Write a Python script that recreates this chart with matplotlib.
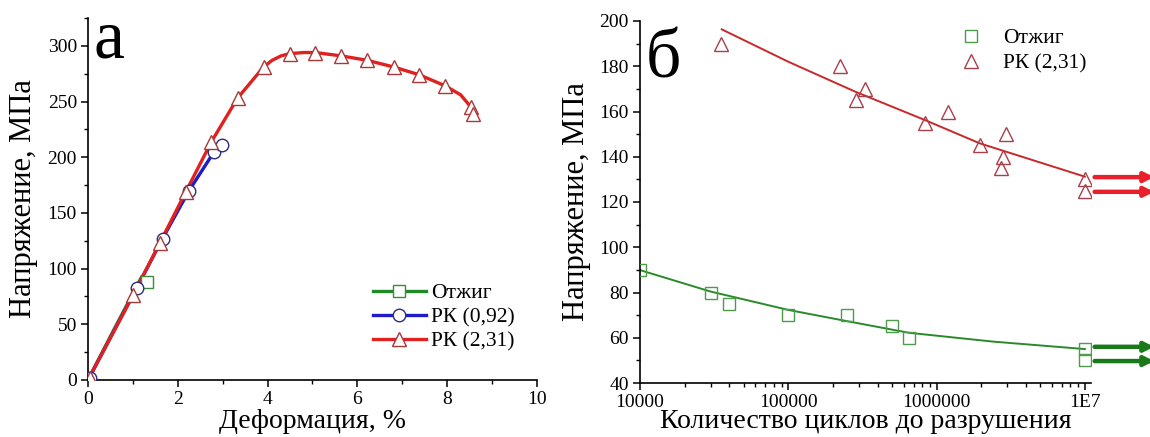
import numpy as np
import matplotlib
matplotlib.use("Agg")
import matplotlib.pyplot as plt
from matplotlib.ticker import MultipleLocator, LogLocator, NullFormatter

plt.rcParams["font.family"] = ["Liberation Serif", "DejaVu Serif"]

# --- panel a: tension curves (strain %, stress MPa) ---
ann_curve_x = [0.0, 0.6, 1.2, 1.31]
ann_curve_y = [0.0, 47, 93, 88]
ann_mark_x = [1.31]
ann_mark_y = [88]

rk092_curve_x = [0.0, 1.09, 1.66, 2.25, 2.81, 2.95]
rk092_curve_y = [0.0, 83, 127, 170, 205, 210]
rk092_mark_x = [0.05, 1.09, 1.66, 2.25, 2.81, 2.99]
rk092_mark_y = [2, 83, 127, 170, 205, 211]

rk231_curve_x = [0.0, 1.0, 1.6, 2.18, 2.75, 3.33, 3.91, 4.1, 4.3, 4.49, 4.8,
                 5.06, 5.64, 6.22, 6.81, 7.38, 7.96, 8.3, 8.55]
rk231_curve_y = [0.0, 76, 123, 169, 214, 253, 281, 287, 291, 293, 294,
                 294, 291, 287, 281, 274, 264, 256, 244]
rk231_mark_x = [0.05, 1.0, 1.6, 2.18, 2.75, 3.33, 3.91, 4.49, 5.06, 5.64,
                6.22, 6.81, 7.38, 7.96, 8.53, 8.58]
rk231_mark_y = [2, 76, 123, 169, 214, 253, 281, 293, 294, 291,
                287, 281, 274, 264, 245, 239]

# --- panel b: fatigue (cycles, stress MPa) ---
fat_ann_n = [1e4, 3e4, 4e4, 1e5, 2.5e5, 5e5, 6.5e5, 1e7, 1e7]
fat_ann_s = [90, 80, 75, 70, 70, 65, 60, 55, 50]
fit_ann_n = [1e4, 3e4, 1e5, 2.6e5, 6.5e5, 2.4e6, 1e7]
fit_ann_s = [89.9, 80.4, 72.3, 67.1, 62.2, 58.3, 55.0]

fat_rk_n = [3.5e4, 2.24e5, 2.84e5, 3.31e5, 8.34e5, 1.19e6, 1.95e6,
            2.93e6, 2.8e6, 2.73e6, 1e7, 1e7]
fat_rk_s = [190, 180, 165, 170, 155, 160, 145, 150, 140, 135, 130, 125]
fit_rk_n = [3.56e4, 1e5, 2.82e5, 8.36e5, 1.96e6, 1e7]
fit_rk_s = [196.3, 182.0, 168.8, 156.2, 145.9, 131.2]

runout_rk = [131, 124.5]
runout_ann = [56, 49.7]

GREEN = "#1f8a2a"
BLUE = "#1c1cc8"
RED = "#e0211f"

fig = plt.figure(figsize=(11.5, 4.37), dpi=100)

# ---------------- panel a ----------------
ax1 = fig.add_axes([88 / 1150, 57 / 437, 449 / 1150, 362 / 437])
ax1.plot(ann_curve_x, ann_curve_y, color=GREEN, lw=2.4, zorder=2)
ax1.plot(rk092_curve_x, rk092_curve_y, color=BLUE, lw=2.4, zorder=3)
ax1.plot(rk231_curve_x, rk231_curve_y, color=RED, lw=2.4, zorder=4)
ax1.plot(ann_mark_x, ann_mark_y, ls="none", marker="s", ms=8, mfc="white",
         mec="#3c8c3c", mew=1.0, zorder=5)
ax1.plot(rk092_mark_x, rk092_mark_y, ls="none", marker="o", ms=9, mfc="white",
         mec="#2a2a80", mew=1.0, zorder=5)
ax1.plot(rk231_mark_x, rk231_mark_y, ls="none", marker="^", ms=10, mfc="white",
         mec="#a83838", mew=1.0, zorder=6)

h1, = ax1.plot([], [], color=GREEN, lw=2.4, marker="s", ms=8, mfc="white", mec="#3c8c3c")
h2, = ax1.plot([], [], color=BLUE, lw=2.4, marker="o", ms=9, mfc="white", mec="#2a2a80")
h3, = ax1.plot([], [], color=RED, lw=2.4, marker="^", ms=10, mfc="white", mec="#a83838")
ax1.legend([h1, h2, h3], ["Отжиг", "РК (0,92)", "РК (2,31)"], loc="upper left",
           bbox_to_anchor=(373 / 1150, (437 - 283) / 437), bbox_transform=fig.transFigure,
           frameon=False, fontsize=15.5, handlelength=2.45, handletextpad=0.25,
           borderpad=0, borderaxespad=0, labelspacing=0.2)

ax1.set_xlim(0, 10)
ax1.set_ylim(0, 325)
ax1.xaxis.set_major_locator(MultipleLocator(2))
ax1.xaxis.set_minor_locator(MultipleLocator(1))
ax1.yaxis.set_major_locator(MultipleLocator(50))
ax1.yaxis.set_minor_locator(MultipleLocator(25))
ax1.set_xlabel("Деформация, %", fontsize=20)
ax1.set_ylabel("Напряжение, МПа", fontsize=22)
ax1.xaxis.set_label_coords(0.5, -0.081)
ax1.yaxis.set_label_coords(-0.112, 0.5)
fig.text(94 / 1150, (437 - 58) / 437, "а", fontsize=50, va="baseline", ha="left")

# ---------------- panel b ----------------
ax2 = fig.add_axes([640 / 1150, 54 / 437, 451 / 1150, 362 / 437])
ax2.set_xscale("log")
ax2.plot(fit_ann_n, fit_ann_s, color="#2a8a2a", lw=1.4, zorder=2)
ax2.plot(fit_rk_n, fit_rk_s, color="#c8282a", lw=1.4, zorder=2)
ax2.plot(fat_ann_n, fat_ann_s, ls="none", marker="s", ms=8, mfc="none",
         mec="#4c9c4c", mew=1.0, label="Отжиг", zorder=3)
ax2.plot(fat_rk_n, fat_rk_s, ls="none", marker="^", ms=9.5, mfc="none",
         mec="#a8404c", mew=1.0, label="РК (2,31)", zorder=3)
ax2.legend(loc="upper left", bbox_to_anchor=(960 / 1150, (437 - 28) / 437),
           bbox_transform=fig.transFigure, frameon=False, fontsize=15.5,
           handlelength=1.0, handletextpad=1.0, borderpad=0, borderaxespad=0,
           labelspacing=0.25)

for yv in runout_rk:
    ax2.annotate("", xy=(1.14, yv), xytext=(1.008, yv),
                 xycoords=("axes fraction", "data"), textcoords=("axes fraction", "data"),
                 arrowprops=dict(arrowstyle="-|>", lw=3.2, color="#e8202a",
                                 mutation_scale=14, shrinkA=0, shrinkB=0),
                 annotation_clip=False)
for yv in runout_ann:
    ax2.annotate("", xy=(1.14, yv), xytext=(1.008, yv),
                 xycoords=("axes fraction", "data"), textcoords=("axes fraction", "data"),
                 arrowprops=dict(arrowstyle="-|>", lw=3.2, color="#1a7a1a",
                                 mutation_scale=14, shrinkA=0, shrinkB=0),
                 annotation_clip=False)

ax2.set_xlim(1e4, 1.1e7)
ax2.set_ylim(40, 200)
ax2.set_xticks([1e4, 1e5, 1e6, 1e7], ["10000", "100000", "1000000", "1E7"])
ax2.xaxis.set_minor_locator(LogLocator(base=10, subs=np.arange(2, 10)))
ax2.xaxis.set_minor_formatter(NullFormatter())
ax2.yaxis.set_major_locator(MultipleLocator(20))
ax2.yaxis.set_minor_locator(MultipleLocator(10))
ax2.set_xlabel("Количество циклов до разрушения", fontsize=20)
ax2.set_ylabel("Напряжение, МПа", fontsize=22)
ax2.xaxis.set_label_coords(0.5, -0.073)
ax2.yaxis.set_label_coords(-0.108, 0.5)
fig.text(646 / 1150, (437 - 77) / 437, "б", fontsize=50, va="baseline", ha="left")

for ax in (ax1, ax2):
    for side in ("top", "right"):
        ax.spines[side].set_visible(False)
    for side in ("left", "bottom"):
        ax.spines[side].set_linewidth(1.2)
    ax.tick_params(which="major", direction="out", length=5, width=1.1,
                   labelsize=14, pad=3)
    ax.tick_params(which="minor", direction="out", length=3, width=1.0)

fig.savefig("out.png", dpi=100)
